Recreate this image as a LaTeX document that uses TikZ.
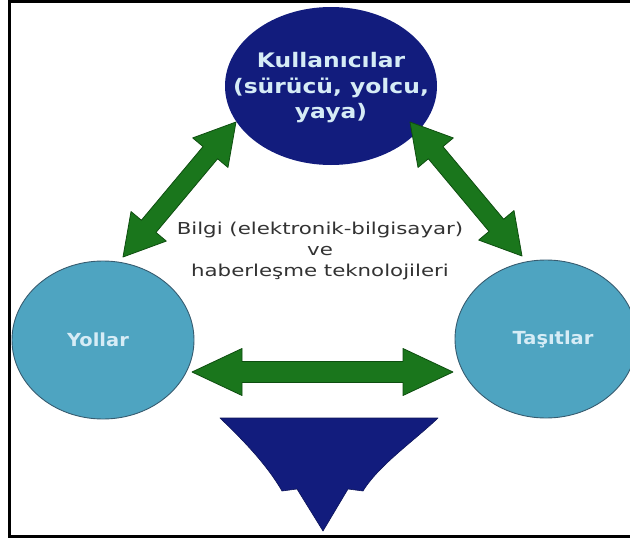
\documentclass[tikz,border=0pt]{standalone}
\usepackage{fontspec}
\setmainfont{DejaVu Sans}
\usepackage{tikz}
\usetikzlibrary{shapes,calc}
\usepackage{xcolor}
\definecolor{navy}{RGB}{18,28,125}
\definecolor{roadblue}{RGB}{78,164,193}
\definecolor{rimblue}{RGB}{55,92,112}
\definecolor{arrowgreen}{RGB}{26,118,28}
\definecolor{rimgreen}{RGB}{14,78,16}
\definecolor{lighttext}{RGB}{214,236,246}
\definecolor{darktext}{RGB}{50,50,50}
\newfontfamily\topfont[FakeStretch=1.17]{DejaVu Sans Bold}
\newfontfamily\sidefont[FakeStretch=1.08]{DejaVu Sans Bold}
\newfontfamily\midfont[FakeStretch=1.3]{DejaVu Sans}
% fat double arrow: from, to, head length, head half width, shaft half width
\newcommand{\fatarrow}[5]{%
\filldraw[fill=arrowgreen,draw=rimgreen,line width=0.8pt,line join=round]
 (#1) -- ($(#1)!#3!(#2)!#4!90:(#2)$) -- ($(#1)!#3!(#2)!#5!90:(#2)$)
 -- ($(#2)!#3!(#1)!#5!-90:(#1)$) -- ($(#2)!#3!(#1)!#4!-90:(#1)$)
 -- (#2) -- ($(#2)!#3!(#1)!#4!90:(#1)$) -- ($(#2)!#3!(#1)!#5!90:(#1)$)
 -- ($(#1)!#3!(#2)!#5!-90:(#2)$) -- ($(#1)!#3!(#2)!#4!-90:(#2)$) -- cycle;}

\begin{document}
\begin{tikzpicture}[x=1pt,y=-1pt,
  user/.style={ellipse,fill=navy,inner sep=0pt,
    minimum width=212pt,minimum height=158pt},
  usertext/.style={text=lighttext,align=center,inner sep=0pt,
    font=\topfont\fontsize{20}{25.5}\selectfont},
  place/.style={ellipse,draw=rimblue,line width=0.9pt,fill=roadblue,
    inner sep=0pt,minimum width=182pt,minimum height=158pt},
  placetext/.style={text=lighttext,inner sep=0pt,
    font=\sidefont\fontsize{18}{22}\selectfont}]
\useasboundingbox (0,0) rectangle (630,538);
\draw[line width=2.8pt] (640,1.5) -- (9.5,1.5) -- (9.5,536.5) -- (640,536.5);

% the three actors
\node[user,label={[usertext,yshift=-2pt]center:{Kullanıcılar\\(sürücü, yolcu,\\yaya)}}]
  (kullanicilar) at (331,86) {};
\node[place,label={[placetext,xshift=-5pt]center:Yollar}] (yollar) at (103,340) {};
\node[place,label={[placetext,xshift=7pt]center:Taşıtlar}] (tasitlar) at (546,339) {};
\node[text=darktext,align=center,font=\midfont\fontsize{16.4}{21}\selectfont]
  (bilgi) at (320,251) {Bilgi (elektronik-bilgisayar)\\ve\\haberleşme teknolojileri};

% arrow ends
\coordinate (yk) at (123,257);
\coordinate (ky) at (236,122);
\coordinate (kt) at (410,122);
\coordinate (tk) at (522,256);
\coordinate (yt) at (192,372);
\coordinate (ty) at (453,372);
\fatarrow{yk}{ky}{40pt}{23pt}{9.5pt}
\fatarrow{kt}{tk}{40pt}{23pt}{9.5pt}
\fatarrow{yt}{ty}{50pt}{23.5pt}{10.5pt}

% big arrow pointing down
\filldraw[fill=navy,draw=navy!70!black,line width=0.6pt,line join=round]
  (220,418) -- (438,418) .. controls (414,441) and (379,465) .. (363,491)
  -- (348,489) -- (323,531) -- (297,489) -- (282,491)
  .. controls (267,465) and (244,441) .. (220,418) -- cycle;
\end{tikzpicture}
\end{document}
